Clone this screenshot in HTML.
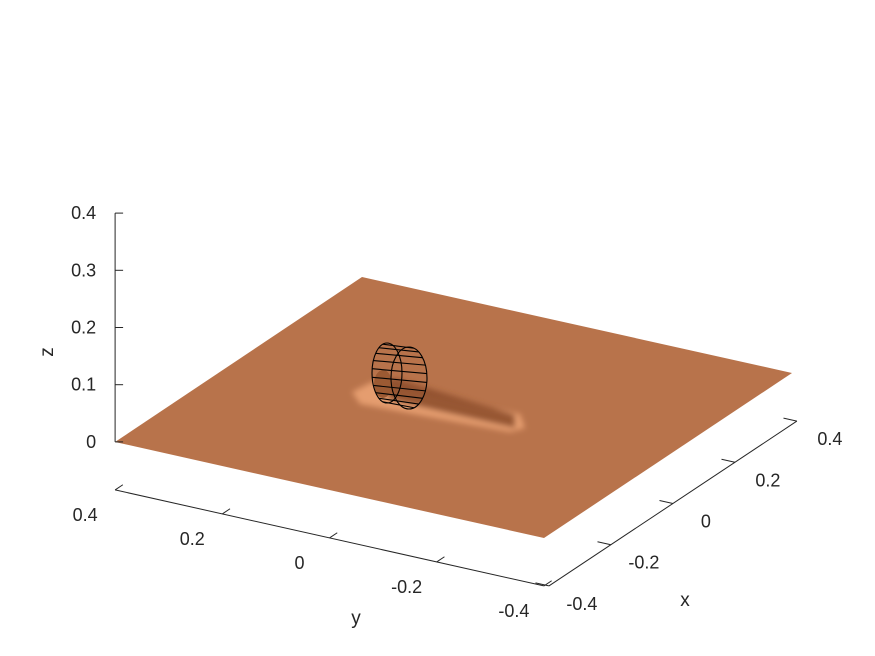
<!DOCTYPE html>
<html><head><meta charset="utf-8"><style>
body{margin:0;background:#fff}
svg{display:block;font-family:"Liberation Sans",sans-serif}
</style></head><body>
<svg id="c" width="875" height="656" viewBox="0 0 875 656">
<defs>
<filter id="bl"><feGaussianBlur stdDeviation="3"/></filter>
</defs>
<polygon points="115,442 362,277 792,373 544,538" fill="#b8734b"/>
<g filter="url(#bl)">
<polygon points="352,392 372,382 520,414 525,428 510,432 360,404" fill="#f0a878" opacity="0.8"/>
<polygon points="380,385 395,378 515,415 515,428 390,400" fill="#8a4a28" opacity="0.85"/>
</g>
<ellipse cx="383" cy="384" rx="9" ry="14" fill="#9c5a33"/>
<g id="axes"></g>
<g id="cyl" stroke="#000" stroke-width="1.1" fill="none"></g>
</svg>
<script>
const zTicks=[0,0.1,0.2,0.3,0.4];
const zLabels=["0","0.1","0.2","0.3","0.4"];
const yTicks=[0.4,0.2,0,-0.2,-0.4];
const yLabels=["0.4","0.2","0","-0.2","-0.4"];
const xTicks=[-0.4,-0.2,0,0.2,0.4];
const xLabels=["-0.4","-0.2","0","0.2","0.4"];
const ns="http://www.w3.org/2000/svg";
const ax=document.getElementById('axes');
function P(x,y,z){return [453.5+x*310-y*536, 407.5-x*206-y*120-z*572];}
const FL=48;
function mk(t,a,p){const e=document.createElementNS(ns,t);for(const k in a)e.setAttribute(k,a[k]);(p||ax).appendChild(e);return e;}
function line(a,b,n){const e=mk('line',{x1:a[0],y1:a[1],x2:b[0],y2:b[1],stroke:'#262626','stroke-width':1});

return e;}
function txt(s,x,y,anchor,n,size){const e=mk('text',{x:x,y:y,'text-anchor':anchor,'font-size':size||18,fill:'#262626'});e.textContent=s;

return e;}
const z0=P(-0.4,0.4,0),z1=P(-0.4,0.4,0.4);
line(z0,z1,'z-axis-line');
zTicks.forEach((v,i)=>{const p=P(-0.4,0.4,v);line(p,[p[0]+8,p[1]],'z-tick');txt(zLabels[i],p[0]-19,p[1]+6,'end','z-tick-label');});
txt('z',47,358,'middle','z-axis-title',19).setAttribute('transform','rotate(-90 47 352)');
const ya=P(-0.4,0.4,0),yb=P(-0.4,-0.4,0);
line([ya[0],ya[1]+FL],[yb[0],yb[1]+FL],'y-axis-line');
yTicks.forEach((v,i)=>{const p=P(-0.4,v,0);p[1]+=FL;const d=[310*0.025,-206*0.025];line(p,[p[0]+d[0],p[1]+d[1]],'y-tick');
txt(yLabels[i],p[0]-30,p[1]+31,'middle','y-tick-label');});
txt('y',356,624,'middle','y-axis-title',19);
const xa=P(-0.4,-0.4,0),xb=P(0.4,-0.4,0);
line([xa[0]+5,xa[1]+FL],[xb[0]+5,xb[1]+FL],'x-axis-line');
xTicks.forEach((v,i)=>{const p=P(v,-0.4,0);p[0]+=5;p[1]+=FL;const d=[-536*0.025,-120*0.025];line(p,[p[0]+d[0],p[1]+d[1]],'x-tick');
txt(xLabels[i],p[0]+33,p[1]+24,'middle','x-tick-label');});
txt('x',685,606,'middle','x-axis-title',19);
const cyl=document.getElementById('cyl');
const L={cx:387,cy:373,rx:15,ry:30},R={cx:409,cy:378,rx:18,ry:31};
mk('ellipse',{cx:L.cx,cy:L.cy,rx:L.rx,ry:L.ry},cyl);
mk('ellipse',{cx:R.cx,cy:R.cy,rx:R.rx,ry:R.ry},cyl);
for(let k=1;k<11;k++){const t=-Math.PI/2+k*Math.PI/11;
const a=[L.cx-L.rx*Math.cos(t),L.cy+L.ry*Math.sin(t)],b=[R.cx+R.rx*Math.cos(t),R.cy+R.ry*Math.sin(t)];
mk('line',{x1:a[0],y1:a[1],x2:b[0],y2:b[1]},cyl);}
</script>
</body></html>
